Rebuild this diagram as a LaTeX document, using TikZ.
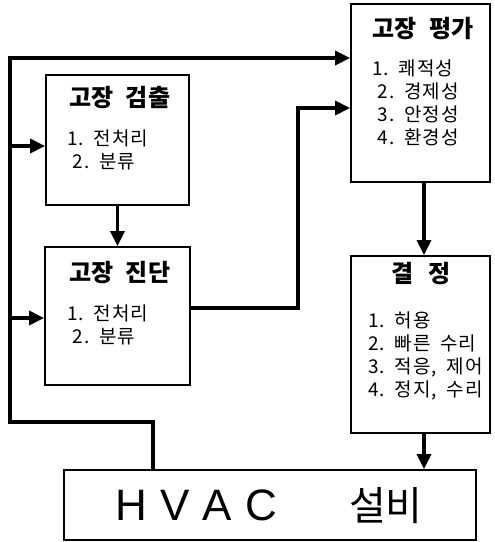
\documentclass[tikz,border=0pt]{standalone}
\usepackage{fontspec}
\setmainfont{Noto Sans CJK KR}
\newfontfamily\latinsans{Liberation Sans}
\usetikzlibrary{arrows.meta}
\newcommand{\gp}{\hspace{0.5em}}
\tikzset{
  box/.style={draw, line width=1.8pt, minimum width=#1, inner sep=0pt},
  conn/.style={line width=3.4pt},
  arr/.style={conn, -{Triangle[length=15pt,width=14pt]}},
  ttl/.style={font=\fontsize{24}{28}\selectfont\bfseries, inner sep=0pt},
  lst/.style={font=\fontsize{19}{23}\selectfont\addfontfeatures{LetterSpace=6}, align=left, inner sep=0pt, anchor=north west},
}
\begin{document}
\begin{tikzpicture}[x=1pt,y=-1pt]
\useasboundingbox (0,0) rectangle (495,542);
% boxes
\node[box=143pt, minimum height=130pt] (det) at (117.5,140) {};
\node[box=145pt, minimum height=138pt] (dia) at (117.5,316) {};
\node[box=139pt, minimum height=178pt] (eva) at (420.5,93) {};
\node[box=139pt, minimum height=177pt] (dec) at (420.5,344.5) {};
\node[box=412pt, minimum height=70pt] (hvac) at (270,505) {};
% texts
\node[ttl] (detT) at (120,98) {고장\gp 검출};
\node[lst] (detL) at (67,130) {1.\gp 전처리\\\ 2.\gp 분류};
\node[ttl] (diaT) at (120,273) {고장\gp 진단};
\node[lst] (diaL) at (67,305) {1.\gp 전처리\\\ 2.\gp 분류};
\node[ttl] (evaT) at (423,29) {고장\gp 평가};
\node[lst] (evaL) at (372,60) {1.\gp 쾌적성\\\ 2.\gp 경제성\\\ 3.\gp 안정성\\\ 4.\gp 환경성};
\node[ttl] (decT) at (421,274) {결\hspace{0.6em}정};
\node[lst] (decL) at (368,312) {1.\gp 허용\\2.\gp 빠른\gp 수리\\3.\gp 적응,\gp 제어\\4.\gp 정지,\gp 수리};
\node[inner sep=0pt] (hvacT) at (269,506) {{\latinsans\fontsize{44}{50}\selectfont H\hspace{0.3em}V\hspace{0.3em}A\hspace{0.3em}C}\hspace{72pt}{\fontsize{40}{50}\selectfont 설비}};
% connectors
\coordinate (c1) at (153,422);
\coordinate (c2) at (10,422);
\coordinate (c3) at (10,58);
\coordinate (c4) at (298,108);
\draw[arr] (hvac.north -| c1) |- (c2) |- (c3) -- (c3 -| eva.west);
\draw[arr] (10,146) -- (det.west |- 0,146);
\draw[arr] (10,318) -- (dia.west |- 0,318);
\draw[arr] (det.south) -- (dia.north);
\draw[arr] (dia.east |- 0,308) -| (c4) -- (c4 -| eva.west);
\draw[arr] (eva.south -| 424,0) -- (dec.north -| 424,0);
\draw[arr] (dec.south -| 424,0) -- (hvac.north -| 424,0);
\end{tikzpicture}
\end{document}
